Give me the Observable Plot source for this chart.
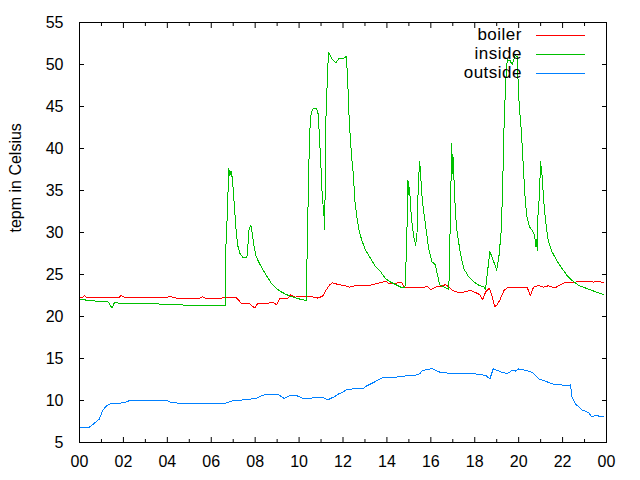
<!DOCTYPE html>
<html><head><meta charset="utf-8">
<script src="https://cdn.jsdelivr.net/npm/d3@7"></script>
<script src="https://cdn.jsdelivr.net/npm/@observablehq/plot@0.6"></script>
<style>
body{margin:0;background:#fff}
#wrap{position:relative;width:640px;height:480px;font-family:"Liberation Sans",sans-serif;color:#000}
.legtext{position:absolute;right:118px;font-size:17px;letter-spacing:0.5px;line-height:18px;text-align:right;white-space:nowrap}
.legline{position:absolute;left:536px;width:49px;height:1px}
</style></head><body><div id="wrap"></div>
<script>
const seriesNames = ["boiler", "inside", "outside"];
const seriesColors = ["#ff0000", "#00c000", "#0080ff"];
const xTickValues = [0, 2, 4, 6, 8, 10, 12, 14, 16, 18, 20, 22, 24];
const xTickLabels = ["00", "02", "04", "06", "08", "10", "12", "14", "16", "18", "20", "22", "00"];
const xMinorTicks = [1, 3, 5, 7, 9, 11, 13, 15, 17, 19, 21, 23];
const yTickValues = [5, 10, 15, 20, 25, 30, 35, 40, 45, 50, 55];
const yLabel = "tepm in Celsius";

// [hour, temperature]
const boiler = [[0,22.3],[0.15,22.3],[0.22,22.5],[0.32,22.3],[1.1,22.3],[1.17,22.2],[1.3,22.3],[1.7,22.3],[1.76,22.2],[1.9,22.5],[2.05,22.3],[4.0,22.3],[4.08,22.4],[4.4,22.2],[5.5,22.2],[5.6,22.35],[5.7,22.2],[6.5,22.2],[6.6,22.3],[7.1,22.3],[7.2,22.1],[7.35,21.6],[7.5,21.5],[7.75,21.5],[7.99,21.0],[8.1,21.5],[8.5,21.5],[8.78,21.7],[8.98,21.4],[9.13,22.2],[9.5,22.2],[9.62,22.6],[9.8,22.3],[10.15,22.4],[10.5,22.4],[10.84,22.2],[11.07,22.4],[11.22,23.1],[11.4,23.8],[11.52,24.0],[11.8,23.8],[12.05,23.7],[12.3,23.5],[12.6,23.7],[13.2,23.7],[13.5,23.9],[13.95,24.2],[14.1,23.9],[14.4,23.9],[14.55,24.1],[14.67,24.1],[14.78,23.5],[15.16,23.4],[15.46,23.5],[15.6,23.4],[15.84,23.6],[16.0,23.2],[16.29,23.6],[16.5,23.6],[16.67,23.8],[16.82,23.5],[16.98,23.1],[17.2,22.9],[17.5,22.9],[17.8,23.1],[18.0,22.9],[18.23,22.6],[18.36,22.0],[18.49,22.9],[18.66,23.4],[18.78,22.5],[18.9,21.2],[19.0,21.3],[19.15,22.0],[19.33,23.1],[19.48,23.4],[20.0,23.4],[20.4,23.4],[20.53,22.5],[20.68,23.5],[20.91,23.7],[21.14,23.5],[21.34,23.65],[21.65,23.4],[21.98,23.9],[22.2,24.1],[22.6,24.1],[23.1,24.2],[23.4,24.1],[23.65,24.2],[23.88,24.0]];

const inside = [[0,22.1],[0.4,21.9],[0.7,21.9],[0.75,21.75],[1.3,21.75],[1.48,21.0],[1.6,21.7],[1.75,21.6],[2.6,21.6],[2.7,21.5],[3.6,21.5],[3.65,21.4],[4.0,21.4],[4.7,21.4],[4.75,21.3],[6.63,21.3],[6.65,27.3],[6.72,31.5],[6.8,37.6],[6.85,36.8],[6.9,37.3],[6.95,36.6],[6.99,35.4],[7.06,33.0],[7.12,30.65],[7.2,28.5],[7.31,27.5],[7.45,27.0],[7.62,27.0],[7.67,28.5],[7.72,30.3],[7.8,30.86],[7.87,29.9],[7.95,28.3],[8.05,27.1],[8.2,26.3],[8.37,25.5],[8.53,24.8],[8.75,23.9],[8.98,23.3],[9.21,22.9],[9.43,22.6],[9.74,22.3],[10.05,22.06],[10.32,21.9],[10.35,24.7],[10.38,30.3],[10.43,35.4],[10.47,41.2],[10.53,43.8],[10.6,44.6],[10.68,44.8],[10.8,44.7],[10.87,44.1],[10.93,41.2],[10.99,38.2],[11.05,34.6],[11.1,33.0],[11.11,32.0],[11.13,33.0],[11.16,30.3],[11.19,35.4],[11.22,43.4],[11.29,48.6],[11.34,51.4],[11.45,50.9],[11.52,50.6],[11.67,50.2],[11.82,50.7],[12.05,50.75],[12.12,50.9],[12.15,51.0],[12.18,49.75],[12.23,47.0],[12.27,44.2],[12.33,41.4],[12.39,39.0],[12.47,37.0],[12.54,33.8],[12.65,31.5],[12.76,29.9],[12.88,28.9],[13.03,27.9],[13.26,26.9],[13.49,25.9],[13.72,25.3],[13.94,24.5],[14.17,24.1],[14.4,23.8],[14.63,23.5],[14.82,23.4],[14.86,25.7],[14.91,29.9],[14.96,36.2],[14.99,34.5],[15.03,35.4],[15.08,33.0],[15.16,30.65],[15.24,29.3],[15.31,28.5],[15.37,29.9],[15.43,35.8],[15.49,38.4],[15.52,37.5],[15.56,35.8],[15.62,33.6],[15.77,30.65],[15.89,28.3],[15.97,27.3],[16.05,26.5],[16.2,26.2],[16.3,25.0],[16.4,23.8],[16.6,23.5],[16.82,23.2],[16.89,31.85],[16.95,40.6],[16.99,37.0],[17.02,38.9],[17.05,36.6],[17.12,32.3],[17.2,29.9],[17.35,27.5],[17.5,25.7],[17.73,24.7],[17.96,24.1],[18.2,23.7],[18.42,23.5],[18.49,23.2],[18.57,25.1],[18.69,27.7],[18.8,27.0],[19.0,25.5],[19.1,27.1],[19.21,30.3],[19.27,35.4],[19.33,42.2],[19.4,47.4],[19.48,50.55],[19.6,50.5],[19.7,50.0],[19.85,51.1],[19.94,50.9],[19.96,49.0],[20.0,46.2],[20.06,44.0],[20.12,42.2],[20.18,39.4],[20.23,37.0],[20.3,33.8],[20.38,31.85],[20.5,30.65],[20.61,30.3],[20.72,29.7],[20.79,28.3],[20.82,29.2],[20.85,27.9],[20.88,32.0],[20.94,34.2],[21.0,38.4],[21.03,37.5],[21.06,37.0],[21.14,33.8],[21.22,31.5],[21.34,29.1],[21.52,27.7],[21.75,26.6],[21.98,25.7],[22.2,24.9],[22.43,24.3],[22.73,23.7],[23.04,23.4],[23.34,23.1],[23.65,22.8],[23.88,22.6]];

const outside = [[0,6.8],[0.44,6.8],[0.67,7.27],[0.9,7.79],[1.05,8.78],[1.2,9.3],[1.36,9.58],[1.6,9.6],[2.04,9.75],[2.27,9.98],[3.99,9.98],[4.1,9.82],[4.38,9.82],[4.45,9.7],[5.7,9.7],[5.75,9.58],[5.85,9.7],[6.67,9.7],[6.9,9.9],[7.12,10.06],[7.3,10.0],[7.5,10.1],[7.9,10.2],[8.1,10.3],[8.3,10.57],[8.55,10.77],[9.01,10.77],[9.32,10.25],[9.62,10.65],[9.9,10.57],[10.2,10.2],[10.61,10.3],[11.14,10.3],[11.29,10.06],[11.6,10.45],[11.85,10.85],[12.05,11.05],[12.12,11.25],[12.42,11.37],[12.88,11.37],[13.1,11.77],[13.4,12.16],[13.78,12.68],[14.3,12.75],[14.82,12.92],[15.2,12.92],[15.5,13.2],[15.62,13.56],[15.89,13.7],[16.07,13.8],[16.2,13.6],[16.43,13.35],[16.7,13.3],[16.89,13.2],[17.9,13.2],[18.2,13.1],[18.49,13.0],[18.69,12.57],[18.84,13.76],[19.0,13.6],[19.25,13.35],[19.48,13.2],[19.71,13.6],[19.85,13.5],[20.0,13.76],[20.3,13.6],[20.61,13.35],[20.91,12.57],[21.22,12.3],[21.52,11.97],[21.8,11.9],[22.1,11.8],[22.36,11.85],[22.43,10.37],[22.59,9.58],[22.89,8.87],[23.2,8.55],[23.32,8.07],[23.5,8.2],[23.88,8.07]];

const rows = [];
[boiler, inside, outside].forEach((arr, i) => arr.forEach(([h, v]) => rows.push({series: seriesNames[i], h, v})));

const xLab = d => xTickLabels[xTickValues.indexOf(d)];

const chart = Plot.plot({
  width: 640, height: 480,
  marginLeft: 79, marginRight: 34, marginTop: 22, marginBottom: 38,
  style: {fontFamily: "Liberation Sans, sans-serif", fontSize: "16px", color: "#000", background: "#fff", overflow: "visible"},
  x: {domain: [0, 24]},
  y: {domain: [5, 55]},
  color: {domain: seriesNames, range: seriesColors},
  marks: [
    Plot.line(rows, {x: "h", y: "v", z: "series", stroke: "series", strokeWidth: 1, shapeRendering: "crispEdges"}),
    Plot.axisX(xTickValues, {anchor: "bottom", tickSize: 0, tickPadding: 13, tickFormat: xLab, label: null, fill: "#000"}),
    Plot.axisX(xTickValues, {anchor: "bottom", tickSize: -5, tickFormat: () => "", label: null}),
    Plot.axisX(xMinorTicks, {anchor: "bottom", tickSize: -3, tickFormat: () => "", label: null}),
    Plot.axisX(xTickValues, {anchor: "top", tickSize: -5, tickFormat: () => "", label: null}),
    Plot.axisX(xMinorTicks, {anchor: "top", tickSize: -3, tickFormat: () => "", label: null}),
    Plot.axisY(yTickValues, {anchor: "left", tickSize: 0, tickPadding: 16, label: null, fill: "#000"}),
    Plot.axisY(yTickValues, {anchor: "left", tickSize: -5, tickFormat: () => "", label: null}),
    Plot.axisY(yTickValues, {anchor: "right", tickSize: -5, tickFormat: () => "", label: null}),
    Plot.text([yLabel], {frameAnchor: "left", rotate: -90, dx: -64, fill: "#000", fontSize: 16}),
    Plot.frame({stroke: "#000"})
  ]
});
const wrap = document.getElementById("wrap");
wrap.appendChild(chart);

const legendRowsY = [35, 54, 73];
seriesNames.forEach((name, i) => {
  const t = document.createElement("div");
  t.className = "legtext";
  t.textContent = name;
  t.style.top = (legendRowsY[i] - 9) + "px";
  wrap.appendChild(t);
  const l = document.createElement("div");
  l.className = "legline";
  l.style.top = legendRowsY[i] + "px";
  l.style.background = seriesColors[i];
  wrap.appendChild(l);
});
</script></body></html>
